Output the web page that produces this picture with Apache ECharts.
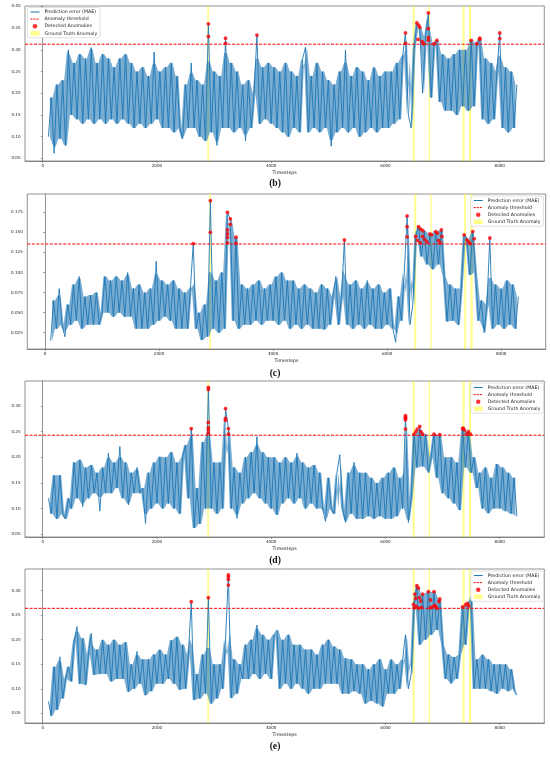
<!DOCTYPE html>
<html>
<head>
<meta charset="utf-8">
<script src="https://cdn.jsdelivr.net/npm/echarts@6/dist/echarts.min.js"></script>
<style>
  html, body { margin: 0; padding: 0; background: #fff; }
  #main { width: 550px; height: 758px; }
</style>
</head>
<body>
<div id="main"></div>
<script>
// error curves, one value every 50 timesteps from t = 100
var stepStart = 100;
var stepSize = 50;

var errB = [
  0.10, 0.19, 0.062, 0.22, 0.095, 0.23, 0.08, 0.30, 0.15, 0.27,
  0.14, 0.29, 0.13, 0.28, 0.14, 0.305, 0.13, 0.27, 0.14, 0.29,
  0.13, 0.28, 0.14, 0.26, 0.13, 0.28, 0.14, 0.29, 0.13, 0.27,
  0.12, 0.25, 0.13, 0.26, 0.12, 0.24, 0.13, 0.295, 0.14, 0.25,
  0.12, 0.26, 0.12, 0.27, 0.11, 0.24, 0.12, 0.095, 0.22, 0.12,
  0.27, 0.12, 0.23, 0.10, 0.22, 0.09, 0.36, 0.11, 0.25, 0.08,
  0.24, 0.12, 0.327, 0.12, 0.27, 0.11, 0.25, 0.12, 0.22, 0.09,
  0.23, 0.12, 0.20, 0.334, 0.13, 0.26, 0.14, 0.27, 0.13, 0.26,
  0.12, 0.25, 0.11, 0.27, 0.10, 0.25, 0.12, 0.24, 0.11, 0.28,
  0.306, 0.11, 0.24, 0.12, 0.27, 0.11, 0.25, 0.12, 0.23, 0.078,
  0.22, 0.11, 0.25, 0.12, 0.30, 0.11, 0.24, 0.12, 0.26, 0.10,
  0.25, 0.11, 0.23, 0.12, 0.26, 0.11, 0.24, 0.12, 0.25, 0.12,
  0.25, 0.13, 0.27, 0.14, 0.285, 0.339, 0.15, 0.12, 0.30, 0.362,
  0.352, 0.20, 0.33, 0.385, 0.19, 0.314, 0.322, 0.18, 0.29, 0.16,
  0.28, 0.16, 0.29, 0.15, 0.30, 0.17, 0.30, 0.16, 0.322, 0.17,
  0.314, 0.327, 0.14, 0.28, 0.13, 0.27, 0.14, 0.25, 0.339, 0.12,
  0.26, 0.11, 0.25, 0.12, 0.22
];

var errC = [
  0.015, 0.065, 0.03, 0.08, 0.035, 0.02, 0.06, 0.035, 0.085, 0.04,
  0.095, 0.03, 0.07, 0.035, 0.072, 0.035, 0.075, 0.035, 0.05, 0.095,
  0.05, 0.09, 0.045, 0.095, 0.05, 0.09, 0.045, 0.10, 0.045, 0.08,
  0.03, 0.085, 0.03, 0.075, 0.03, 0.08, 0.035, 0.114, 0.04, 0.09,
  0.045, 0.085, 0.04, 0.09, 0.03, 0.08, 0.03, 0.075, 0.03, 0.08,
  0.136, 0.03, 0.05, 0.016, 0.06, 0.02, 0.19, 0.03, 0.09, 0.025,
  0.10, 0.03, 0.175, 0.166, 0.04, 0.144, 0.03, 0.085, 0.035, 0.08,
  0.035, 0.085, 0.04, 0.09, 0.035, 0.08, 0.04, 0.085, 0.04, 0.095,
  0.035, 0.10, 0.04, 0.09, 0.03, 0.09, 0.035, 0.08, 0.03, 0.085,
  0.035, 0.08, 0.03, 0.075, 0.03, 0.085, 0.029, 0.08, 0.035, 0.07,
  0.095, 0.035, 0.07, 0.14, 0.035, 0.085, 0.03, 0.09, 0.035, 0.08,
  0.03, 0.09, 0.035, 0.08, 0.03, 0.085, 0.03, 0.075, 0.035, 0.08,
  0.03, 0.013, 0.07, 0.04, 0.10, 0.17, 0.035, 0.06, 0.145, 0.157,
  0.12, 0.152, 0.11, 0.148, 0.104, 0.151, 0.11, 0.153, 0.095, 0.039,
  0.085, 0.04, 0.08, 0.035, 0.08, 0.147, 0.1405, 0.097, 0.151, 0.10,
  0.04, 0.065, 0.025, 0.06, 0.143, 0.03, 0.085, 0.035, 0.08, 0.03,
  0.09, 0.035, 0.085, 0.03, 0.07
];

var errD = [
  0.12, 0.09, 0.165, 0.08, 0.165, 0.09, 0.08, 0.12, 0.10, 0.19,
  0.12, 0.195, 0.104, 0.18, 0.12, 0.185, 0.13, 0.17, 0.095, 0.18,
  0.13, 0.208, 0.13, 0.19, 0.14, 0.221, 0.12, 0.19, 0.107, 0.17,
  0.13, 0.18, 0.13, 0.14, 0.071, 0.17, 0.10, 0.19, 0.11, 0.201,
  0.10, 0.20, 0.11, 0.21, 0.10, 0.19, 0.09, 0.20, 0.224, 0.12,
  0.256, 0.062, 0.14, 0.07, 0.23, 0.10, 0.336, 0.10, 0.19, 0.09,
  0.19, 0.10, 0.295, 0.257, 0.10, 0.18, 0.081, 0.17, 0.11, 0.20,
  0.12, 0.21, 0.13, 0.24, 0.12, 0.21, 0.11, 0.20, 0.10, 0.20,
  0.088, 0.19, 0.11, 0.20, 0.12, 0.19, 0.11, 0.208, 0.12, 0.19,
  0.10, 0.18, 0.11, 0.185, 0.10, 0.17, 0.10, 0.075, 0.16, 0.10,
  0.09, 0.17, 0.205, 0.10, 0.073, 0.17, 0.09, 0.19, 0.08, 0.17,
  0.08, 0.17, 0.085, 0.16, 0.08, 0.15, 0.085, 0.16, 0.08, 0.17,
  0.08, 0.18, 0.085, 0.16, 0.10, 0.281, 0.073, 0.12, 0.245, 0.18,
  0.26, 0.182, 0.245, 0.17, 0.20, 0.245, 0.16, 0.244, 0.13, 0.20,
  0.12, 0.20, 0.11, 0.19, 0.097, 0.256, 0.18, 0.25, 0.17, 0.20,
  0.14, 0.17, 0.10, 0.18, 0.091, 0.16, 0.10, 0.187, 0.10, 0.18,
  0.095, 0.17, 0.09, 0.16, 0.085
];

var errE = [
  0.074, 0.045, 0.145, 0.057, 0.165, 0.08, 0.12, 0.145, 0.115, 0.196,
  0.227, 0.11, 0.203, 0.108, 0.17, 0.213, 0.128, 0.18, 0.13, 0.20,
  0.13, 0.19, 0.115, 0.20, 0.12, 0.19, 0.12, 0.195, 0.094, 0.15,
  0.10, 0.176, 0.11, 0.16, 0.087, 0.16, 0.095, 0.17, 0.11, 0.18,
  0.11, 0.17, 0.12, 0.199, 0.11, 0.206, 0.098, 0.19, 0.10, 0.17,
  0.2776, 0.077, 0.13, 0.08, 0.17, 0.09, 0.2857, 0.07, 0.15, 0.08,
  0.15, 0.10, 0.20, 0.332, 0.081, 0.16, 0.09, 0.15, 0.12, 0.19,
  0.12, 0.20, 0.13, 0.23, 0.12, 0.21, 0.13, 0.20, 0.12, 0.21,
  0.22, 0.10, 0.20, 0.11, 0.21, 0.10, 0.19, 0.11, 0.19, 0.10,
  0.18, 0.09, 0.18, 0.10, 0.17, 0.10, 0.19, 0.11, 0.20, 0.11,
  0.186, 0.11, 0.18, 0.09, 0.162, 0.09, 0.16, 0.095, 0.15, 0.09,
  0.15, 0.07, 0.14, 0.075, 0.15, 0.07, 0.16, 0.064, 0.14, 0.09,
  0.16, 0.09, 0.15, 0.10, 0.16, 0.21, 0.10, 0.13, 0.272, 0.31,
  0.19, 0.293, 0.20, 0.298, 0.21, 0.298, 0.22, 0.283, 0.19, 0.12,
  0.17, 0.11, 0.165, 0.12, 0.17, 0.267, 0.19, 0.274, 0.288, 0.10,
  0.16, 0.10, 0.17, 0.10, 0.16, 0.095, 0.15, 0.09, 0.15, 0.10,
  0.15, 0.095, 0.14, 0.10, 0.087
];

// anomaly thresholds
var threshB = 0.313;
var threshC = 0.1355;
var threshD = 0.243;
var threshE = 0.264;

// detected anomalies [timestep, error]
var anomB = [[2900,0.360],[2900,0.331],[3200,0.327],[3200,0.315],[3750,0.334],[6350,0.339],[6350,0.315],
  [6550,0.362],[6580,0.357],[6600,0.352],[6570,0.324],[6640,0.319],[6670,0.314],[6750,0.385],[6750,0.349],
  [6750,0.328],[6750,0.322],[6850,0.314],[6900,0.322],[7500,0.322],[7600,0.314],[7650,0.327],[7650,0.324],
  [8000,0.339],[8000,0.326]];
var anomC = [[2600,0.136],[2900,0.1895],[2900,0.150],[3200,0.175],[3200,0.153],[3200,0.148],[3200,0.1435],
  [3200,0.137],[3250,0.1667],[3250,0.160],[3350,0.1439],[3350,0.1364],[5250,0.1405],[6350,0.1705],[6350,0.157],
  [6350,0.1445],[6500,0.145],[6550,0.157],[6590,0.154],[6626,0.152],[6530,0.140],[6580,0.137],[6620,0.145],
  [6660,0.141],[6700,0.138],[6750,0.148],[6780,0.147],[6850,0.151],[6880,0.149],[6900,0.140],[6950,0.153],
  [6930,0.137],[6960,0.145],[7350,0.147],[7400,0.1405],[7427,0.138],[7456,0.136],[7500,0.151],[7526,0.142],
  [7800,0.143]];
var anomD = [[2600,0.256],[2900,0.336],[2900,0.332],[2900,0.268],[2900,0.258],[2900,0.253],[2900,0.247],
  [3200,0.295],[3200,0.276],[3200,0.272],[3250,0.256],[3250,0.245],[6350,0.281],[6350,0.278],[6350,0.276],
  [6350,0.273],[6350,0.255],[6500,0.245],[6530,0.25],[6555,0.255],[6600,0.26],[6620,0.25],[6650,0.245],
  [6850,0.245],[6950,0.244],[7350,0.256],[7360,0.257],[7383,0.253],[7418,0.245],[7450,0.25],[7487,0.245]];
var anomE = [[2600,0.2776],[2900,0.2857],[3250,0.332],[3250,0.328],[3250,0.323],[3250,0.3115],[6490,0.272],
  [6515,0.293],[6530,0.284],[6550,0.31],[6576,0.305],[6594,0.286],[6617,0.279],[6650,0.293],[6505,0.265],
  [6540,0.268],[6580,0.264],[6630,0.266],[6750,0.298],[6790,0.281],[6820,0.267],[6850,0.298],[6860,0.27],
  [6900,0.264],[6950,0.283],[6936,0.278],[6780,0.265],[6880,0.268],[7350,0.267],[7400,0.271],[7430,0.274],
  [7458,0.269]];

// ground truth anomaly windows [start, end]
var gtSpans = [[2880, 2910], [6475, 6510], [6755, 6780], [7350, 7385], [7460, 7500]];

// tick labels
var xTicks = [0, 2000, 4000, 6000, 8000];
var yTicksB = [0.05, 0.10, 0.15, 0.20, 0.25, 0.30, 0.35, 0.40];
var yTicksC = [0.025, 0.050, 0.075, 0.100, 0.125, 0.150, 0.175];
var yTicksD = [0.05, 0.10, 0.15, 0.20, 0.25, 0.30];
var yTicksE = [0.05, 0.10, 0.15, 0.20, 0.25, 0.30];

var xMin = -310, xMax = 8780;

var panels = [
  { tag: '(b)', err: errB, thr: threshB, anom: anomB, ticks: yTicksB, dec: 2, ymin: 0.044, ymax: 0.401,
    left: 25, right: 5.7, top: 6, height: 155, capY: 185, legend: { left: 27.5, top: 7.5 } },
  { tag: '(c)', err: errC, thr: threshC, anom: anomC, ticks: yTicksC, dec: 3, ymin: 0.0047, ymax: 0.1978,
    left: 27.3, right: 4.3, top: 194, height: 155, capY: 375, legend: { right: 6.6, top: 196 } },
  { tag: '(d)', err: errD, thr: threshD, anom: anomD, ticks: yTicksD, dec: 2, ymin: 0.0446, ymax: 0.3487,
    left: 25, right: 5.7, top: 381, height: 156, capY: 562, legend: { right: 6.6, top: 383 } },
  { tag: '(e)', err: errE, thr: threshE, anom: anomE, ticks: yTicksE, dec: 2, ymin: 0.0302, ymax: 0.3442,
    left: 25, right: 5.7, top: 569, height: 154, capY: 748, legend: { right: 6.6, top: 571 } }
];

var BLUE = '#1f77b4';
var RED = '#ff0000';
var YELLOW = 'rgba(255,255,0,0.45)';
var FONT = 'DejaVu Sans';
var DASH = [3, 1.5];

function toPoints(vals) {
  return vals.map(function (v, i) { return [stepStart + i * stepSize, v]; });
}

function median3(a, b, c) {
  return Math.max(Math.min(a, b), Math.min(Math.max(a, b), c));
}

// shaded core: the range each segment of the read curve sweeps,
// with lone spikes trimmed so they stay thin lines as in the picture
function coreRenderer(vals) {
  var n = vals.length - 1, hi = [], lo = [];
  for (var i = 0; i < n; i++) {
    hi.push(Math.max(vals[i], vals[i + 1]));
    lo.push(Math.min(vals[i], vals[i + 1]));
  }
  return function (params, api) {
    var top = [], bottom = [];
    for (var i = 0; i < n; i++) {
      var a = Math.max(i - 2, 0), c = Math.min(i + 2, n - 1);
      var mH = median3(hi[a], hi[i], hi[c]);
      var mL = median3(lo[a], lo[i], lo[c]);
      var slack = 0.15 * (mH - mL);
      var x = stepStart + i * stepSize + stepSize / 2;
      top.push(api.coord([x, Math.min(hi[i], mH + slack)]));
      bottom.unshift(api.coord([x, Math.max(lo[i], mL - slack)]));
    }
    return {
      type: 'polygon',
      shape: { points: top.concat(bottom) },
      style: { fill: BLUE, opacity: 0.6 }
    };
  };
}

var grids = [], xAxes = [], yAxes = [], series = [], legends = [], graphics = [];

panels.forEach(function (p, k) {
  grids.push({ left: p.left, right: p.right, top: p.top, height: p.height,
    show: true, borderColor: '#666', borderWidth: 0.7,
    containLabel: false, outerBoundsMode: 'none' });

  xAxes.push({
    type: 'value', gridIndex: k, min: xMin, max: xMax,
    splitLine: { show: false },
    axisLine: { show: true, onZero: false, lineStyle: { color: '#666', width: 0.7 } },
    axisTick: { show: true, length: 2, customValues: xTicks, lineStyle: { color: '#666', width: 0.6 } },
    axisLabel: { customValues: xTicks, fontSize: 4.1, color: '#222', margin: 3, fontFamily: FONT,
      formatter: function (v) { return String(v); } },
    name: 'Timesteps', nameLocation: 'middle', nameGap: 9,
    nameTextStyle: { fontSize: 4.7, color: '#222', fontFamily: FONT }
  });

  yAxes.push({
    type: 'value', gridIndex: k, min: p.ymin, max: p.ymax,
    splitLine: { show: false },
    axisLine: { show: true, lineStyle: { color: '#666', width: 0.7 } },
    axisTick: { show: true, length: 2, customValues: p.ticks, lineStyle: { color: '#666', width: 0.6 } },
    axisLabel: { customValues: p.ticks, fontSize: 4.1, color: '#222', margin: 4.5, fontFamily: FONT,
      showMinLabel: true, showMaxLabel: true,
      formatter: (function (d) { return function (v) { return Number(v).toFixed(d); }; })(p.dec) },
    name: 'Prediction error', nameLocation: 'middle', nameRotate: 90, nameGap: p.left - 8.5,
    nameTextStyle: { fontSize: 4.8, color: '#222', fontFamily: FONT }
  });

  series.push({
    name: 'core', type: 'custom', xAxisIndex: k, yAxisIndex: k,
    data: [[stepStart, p.err[0]]], renderItem: coreRenderer(p.err),
    silent: true, z: 1, clip: true
  });

  series.push({
    name: 'Prediction error (MAE)', type: 'line', xAxisIndex: k, yAxisIndex: k,
    data: toPoints(p.err), symbol: 'none', silent: true, z: 2,
    lineStyle: { color: BLUE, width: 0.9 }, itemStyle: { color: BLUE }
  });

  series.push({
    name: 'Anomaly threshold', type: 'line', xAxisIndex: k, yAxisIndex: k,
    data: [[xMin, p.thr], [xMax, p.thr]],
    symbol: 'none', silent: true, z: 4,
    lineStyle: { color: RED, width: 1, type: DASH }, itemStyle: { color: RED }
  });

  series.push({
    name: 'Ground Truth Anomaly', type: 'line', xAxisIndex: k, yAxisIndex: k, data: [],
    symbol: 'none', z: 3, itemStyle: { color: YELLOW }, lineStyle: { color: YELLOW },
    markArea: {
      silent: true, itemStyle: { color: YELLOW },
      data: gtSpans.map(function (s) { return [{ xAxis: s[0] }, { xAxis: s[1] }]; })
    }
  });

  series.push({
    name: 'Detected Anomalies', type: 'scatter', xAxisIndex: k, yAxisIndex: k,
    data: p.anom, symbolSize: 3.8, silent: true, z: 5,
    itemStyle: { color: RED }
  });

  var lg = {
    orient: 'vertical', itemWidth: 9, itemHeight: 4.5, itemGap: 2.1,
    padding: [2, 3, 2, 2.5], backgroundColor: '#fff',
    borderColor: '#ccc', borderWidth: 0.6, borderRadius: 2,
    textStyle: { fontSize: 4.7, lineHeight: 5, color: '#222', fontFamily: FONT },
    selectedMode: false,
    data: [
      { name: 'Prediction error (MAE)', itemStyle: { opacity: 0 },
        lineStyle: { color: BLUE, width: 1, type: 'solid' } },
      { name: 'Anomaly threshold', itemStyle: { opacity: 0 },
        lineStyle: { color: RED, width: 1, type: [2, 1] } },
      { name: 'Detected Anomalies', icon: 'circle', itemStyle: { color: RED } },
      { name: 'Ground Truth Anomaly', icon: 'rect', itemStyle: { color: YELLOW } }
    ]
  };
  Object.keys(p.legend).forEach(function (key) { lg[key] = p.legend[key]; });
  legends.push(lg);

  graphics.push({
    type: 'text', left: 'center', top: p.capY - 6,
    style: { text: p.tag, font: 'bold 9.6px "Liberation Serif"', fill: '#111' }
  });
});

var myChart = echarts.init(document.getElementById('main'));
myChart.setOption({
  animation: false,
  backgroundColor: '#fff',
  grid: grids,
  xAxis: xAxes,
  yAxis: yAxes,
  legend: legends,
  graphic: graphics,
  series: series
});
</script>
</body>
</html>
